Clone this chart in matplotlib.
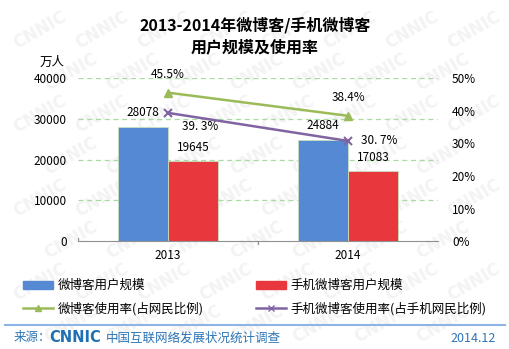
import numpy as np
import matplotlib
matplotlib.use('Agg')
import matplotlib.pyplot as plt
from matplotlib.lines import Line2D
from matplotlib.patches import Patch

plt.rcParams['font.family'] = ['Noto Sans CJK SC', 'DejaVu Sans']

# data
years = ['2013', '2014']
weibo_users = [28078, 24884]
mobile_weibo_users = [19645, 17083]
weibo_rate = [45.5, 38.4]
mobile_weibo_rate = [39.3, 30.7]
weibo_rate_labels = ['45.5%', '38.4%']
mobile_rate_labels = ['39. 3%', '30. 7%']

blue = '#5589D3'
red = '#E8383D'
green = '#9BBB59'
purple = '#8064A2'

fig = plt.figure(figsize=(5.1, 3.49), dpi=100)

# faint watermark, kept inside the figure
bg = fig.add_axes([0, 0, 1, 1], zorder=-10)
bg.set_xlim(0, 510)
bg.set_ylim(349, 0)
bg.axis('off')
for row in range(8):
    for col in range(8):
        wx = 40 + col * 62 + (row % 2) * 31
        wy = 30 + row * 42
        if wx > 480 or wy > 330:
            continue
        bg.text(wx, wy, 'CNNIC', fontsize=12, fontweight='bold', color='#f3f3f3',
                rotation=30, ha='center', va='center', family='DejaVu Sans')

ax = fig.add_axes([0.153, 0.309, 0.706, 0.4676])
ax.patch.set_alpha(0)
x = np.arange(len(years))
w = 0.276
ax.bar(x - w / 2, weibo_users, w, color=blue, edgecolor='#c8e0c0', linewidth=0.6, zorder=2)
ax.bar(x + w / 2, mobile_weibo_users, w, color=red, edgecolor='#c8e0c0', linewidth=0.6, zorder=2)
ax.set_xlim(-0.5, 1.5)
ax.set_ylim(0, 40000)
ax.set_yticks(range(0, 40001, 10000))
ax.set_xticks(x)
ax.set_xticklabels(years, fontsize=8.5)
ax.tick_params(axis='y', length=0, labelsize=8.5, pad=8)
ax.tick_params(axis='x', length=0, labelsize=8.5, pad=6)
for v in range(10000, 40001, 10000):
    ax.axhline(v, color='#a8dba0', linestyle=(0, (4, 3)), linewidth=0.9, zorder=1)
for s in ['top', 'right', 'left']:
    ax.spines[s].set_visible(False)
ax.spines['bottom'].set_color('#909090')
ax.plot([-0.5, -0.5], [0, 700], color='#909090', lw=0.8)
ax.plot([0.5, 0.5], [0, -700], color='#909090', lw=0.8, clip_on=False)
ax.plot([1.5, 1.5], [0, 700], color='#909090', lw=0.8)

for i in range(len(years)):
    ax.text(x[i] - w / 2, weibo_users[i] + 1800, str(weibo_users[i]), ha='center', va='bottom', fontsize=8.5)
    ax.text(x[i] + w / 2, mobile_weibo_users[i] + 1800, str(mobile_weibo_users[i]), ha='center', va='bottom', fontsize=8.5)

ax2 = ax.twinx()
ax2.set_ylim(0, 50)
ax2.set_yticks(range(0, 51, 10))
ax2.set_yticklabels([f'{v}%' for v in range(0, 51, 10)])
ax2.tick_params(axis='y', length=0, labelsize=8.5, pad=10)
for s in ax2.spines.values():
    s.set_visible(False)
ax2.plot(x, weibo_rate, color=green, lw=1.8, marker='^', markersize=6, zorder=3)
ax2.plot(x, mobile_weibo_rate, color=purple, lw=1.8, marker='x', markersize=6, mew=1.5, zorder=3)
ax2.text(x[0], weibo_rate[0] + 3.5, weibo_rate_labels[0], ha='center', va='bottom', fontsize=8.5)
ax2.text(x[1], weibo_rate[1] + 3.5, weibo_rate_labels[1], ha='center', va='bottom', fontsize=8.5)
ax2.text(x[0] + 0.08, mobile_weibo_rate[0] - 4.3, mobile_rate_labels[0], ha='left', va='center', fontsize=8.5)
ax2.text(x[1] + 0.07, mobile_weibo_rate[1], mobile_rate_labels[1], ha='left', va='center', fontsize=8.5)

fig.text(0.5, 1 - 25 / 349, '2013-2014年微博客/手机微博客', ha='center', va='center', fontsize=11.5, fontweight='bold')
fig.text(0.5, 1 - 47 / 349, '用户规模及使用率', ha='center', va='center', fontsize=11.5, fontweight='bold')
fig.text(52 / 510, 1 - 62 / 349, '万人', ha='center', va='center', fontsize=9)

handles = [Patch(color=blue), Line2D([], [], color=green, lw=1.8, marker='^', markersize=5),
           Patch(color=red), Line2D([], [], color=purple, lw=1.8, marker='x', markersize=5)]
labels = ['微博客用户规模', '微博客使用率(占网民比例)', '手机微博客用户规模', '手机微博客使用率(占手机网民比例)']
fig.legend(handles, labels, ncol=2, loc='upper left', bbox_to_anchor=(12 / 510, 1 - 268 / 349),
           frameon=False, fontsize=9, handlelength=2.4, handleheight=0.6, handletextpad=0.4,
           columnspacing=4.1, labelspacing=0.75)

fig.add_artist(Line2D([5 / 510, 505 / 510], [1 - 325 / 349, 1 - 325 / 349], color='#8db4e2', lw=1.5))
fig.text(14 / 510, 1 - 338 / 349, '来源：', ha='left', va='center', fontsize=9, color='#2e75b6')
fig.text(49 / 510, 1 - 338 / 349, 'CNNIC', ha='left', va='center', fontsize=10.5, fontweight='heavy',
         color='#1f6fb5', family='DejaVu Sans')
fig.text(106 / 510, 1 - 338 / 349, '中国互联网络发展状况统计调查', ha='left', va='center', fontsize=9, color='#2e75b6')
fig.text(496 / 510, 1 - 338 / 349, '2014.12', ha='right', va='center', fontsize=9, color='#2e75b6')

fig.savefig('out.png', dpi=100)
